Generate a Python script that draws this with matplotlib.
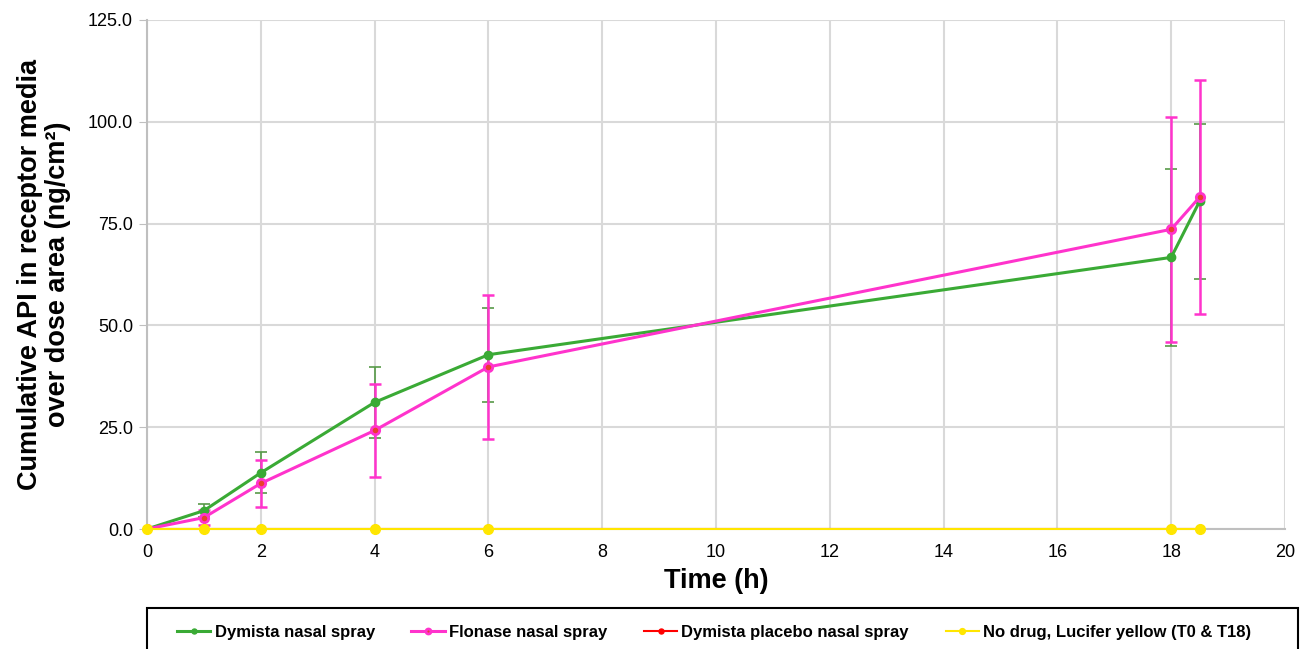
import matplotlib
matplotlib.use("Agg")
import matplotlib.pyplot as plt
from matplotlib.patches import Rectangle

time_h = [0, 1, 2, 4, 6, 18, 18.5]
dymista = [0.0, 4.5, 13.8, 31.1, 42.8, 66.7, 80.5]
dymista_sd = [0.0, 1.6, 5.0, 8.8, 11.5, 21.8, 19.0]
flonase = [0.0, 2.8, 11.2, 24.2, 39.8, 73.6, 81.5]
flonase_sd = [0.0, 1.8, 5.8, 11.4, 17.6, 27.6, 28.7]
placebo = [0.0, 0.0, 0.0, 0.0, 0.0, 0.0, 0.0]
lucifer = [0.0, 0.0, 0.0, 0.0, 0.0, 0.0, 0.0]

x_ticks = [0, 2, 4, 6, 8, 10, 12, 14, 16, 18, 20]
y_ticks = [0, 25, 50, 75, 100, 125]

labels = ["Dymista nasal spray", "Flonase nasal spray",
          "Dymista placebo nasal spray", "No drug, Lucifer yellow (T0 & T18)"]

plt.rcParams['font.family'] = ['Liberation Sans', 'DejaVu Sans']

GREEN = '#3aaa35'
PINK = '#ff33cc'
RED = '#ff0000'
YELLOW = '#ffe600'

W, H = 1305, 649
fig = plt.figure(figsize=(W/100, H/100), dpi=100)
ax = fig.add_axes([147/W, 1-529/H, (1285-147)/W, (529-20)/H])

ax.errorbar(time_h, dymista, yerr=dymista_sd, fmt='none', ecolor='#579a48',
            elinewidth=1.2, capsize=4, capthick=1.2, zorder=3)
ax.errorbar(time_h, flonase, yerr=flonase_sd, fmt='none', ecolor=PINK,
            elinewidth=1.8, capsize=4, capthick=1.8, zorder=4)

l1, = ax.plot(time_h, dymista, color=GREEN, lw=2.2, marker='o', ms=6, zorder=5,
              label=labels[0])
l2, = ax.plot(time_h, flonase, color=PINK, lw=2.2, marker='o', ms=6,
              markerfacecolor='#e8402a', markeredgecolor=PINK, markeredgewidth=2,
              zorder=6, label=labels[1])
l3, = ax.plot(time_h, placebo, color=RED, lw=1.5, marker='o', ms=6, zorder=6.5,
              label=labels[2])
l4, = ax.plot(time_h, lucifer, color=YELLOW, lw=1.5, marker='o', ms=7, zorder=7,
              label=labels[3], clip_on=False)

ax.set_xlim(0, 20)
ax.set_ylim(0, 125)
ax.set_xticks(x_ticks)
ax.set_yticks(y_ticks)
ax.set_yticklabels([f"{v:.1f}" for v in y_ticks])
ax.grid(True, color='#d9d9d9', lw=1.5)
ax.set_axisbelow(True)
for s in ['top', 'right']:
    ax.spines[s].set_visible(False)
for s in ['left', 'bottom']:
    ax.spines[s].set_color('#bfbfbf')
    ax.spines[s].set_linewidth(1.5)
ax.tick_params(axis='y', length=6, color='#bfbfbf', labelsize=13, pad=4)
ax.tick_params(axis='x', length=0, labelsize=13, pad=11)

ax.set_xlabel("Time (h)", fontsize=19.5, fontweight='bold', labelpad=5)
ax.set_ylabel("Cumulative API in receptor media\nover dose area (ng/cm²)",
              fontsize=19.5, fontweight='bold', labelpad=12, linespacing=1.1)

# legend frame
fig.patches.append(Rectangle((147/W, -0.05), (1298-147)/W, 0.05 + (649-608)/H,
                             transform=fig.transFigure, fill=False,
                             edgecolor='black', lw=1.5))

leg = fig.legend(handles=[l1, l2, l3, l4], labels=labels, ncol=4,
                 loc='upper left', bbox_to_anchor=(177/W, 1-625/H),
                 frameon=False, fontsize=12, handlelength=2.0,
                 handletextpad=0.25, columnspacing=2.2,
                 borderpad=0, borderaxespad=0, markerscale=0.6)
for t in leg.get_texts():
    t.set_fontweight('bold')

fig.savefig("out.png", dpi=100)
